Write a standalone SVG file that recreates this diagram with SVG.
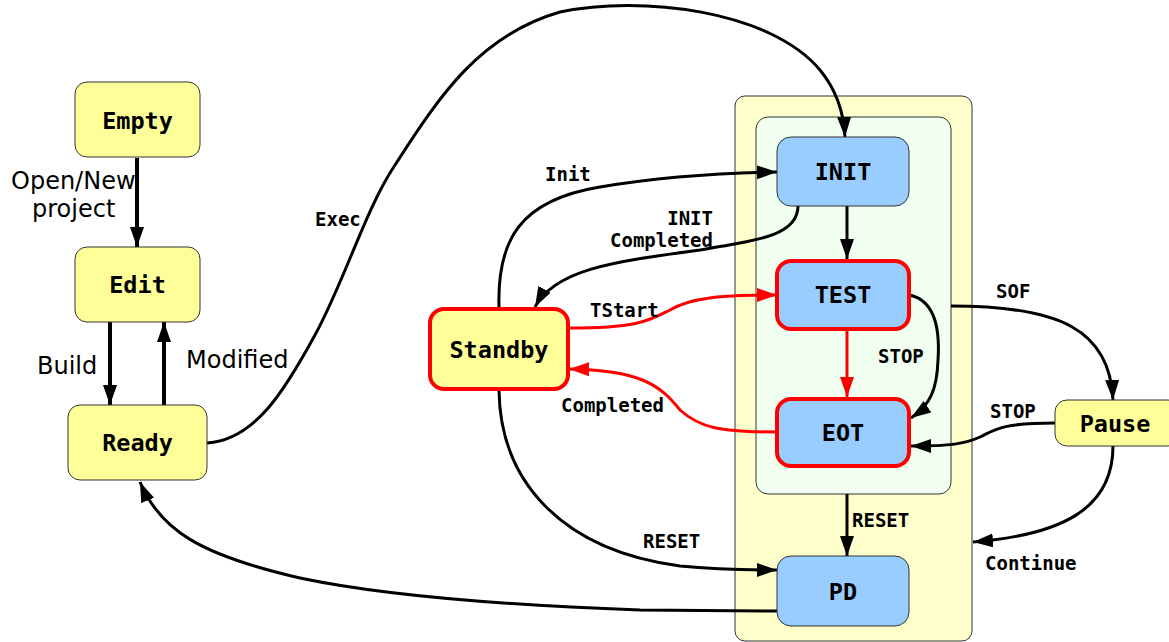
<svg xmlns="http://www.w3.org/2000/svg" width="1169" height="642" viewBox="0 0 1169 642">
<style>
.yel{fill:#ffff99;stroke:#333;stroke-width:1}
.blue{fill:#99ccff;stroke:#333;stroke-width:1}
.hot{stroke:#ff0000;stroke-width:4}
.nt{font-family:"DejaVu Sans Mono","Liberation Mono",monospace;font-weight:bold;font-size:23.5px;text-anchor:middle;fill:#000}
.el{font-family:"DejaVu Sans Mono","Liberation Mono",monospace;font-weight:bold;font-size:19px;fill:#000}
.sl{font-family:"DejaVu Sans","Liberation Sans",sans-serif;font-size:24px;fill:#000}
.c{fill:none;stroke:#000;stroke-width:3}
.cw{fill:none;stroke:#000;stroke-width:4}
.r{fill:none;stroke:#ff0000;stroke-width:3}
</style>
<defs>
<marker id="a" markerUnits="userSpaceOnUse" markerWidth="22" markerHeight="16" refX="20" refY="7" orient="auto"><path d="M0,0 L20,7 L0,14 z" fill="#000"/></marker>
<marker id="ar" markerUnits="userSpaceOnUse" markerWidth="22" markerHeight="16" refX="20" refY="7" orient="auto"><path d="M0,0 L20,7 L0,14 z" fill="#ff0000"/></marker>
</defs>
<g id="containers">
<rect x="735" y="96" width="237" height="545" rx="10" fill="#ffffcc" stroke="#333" stroke-width="1"/>
<rect x="756" y="117" width="195" height="377" rx="12" fill="#f0fff0" stroke="#333" stroke-width="1"/>
</g>
<g id="connectors">
<path class="cw" d="M137,158 L137,247" marker-end="url(#a)"/>
<path class="cw" d="M110,322 L110,405" marker-end="url(#a)"/>
<path class="cw" d="M164,405 L164,322" marker-end="url(#a)"/>
<path class="c" d="M207,443 C255,440 285,390 315,335 C345,280 365,210 395,165 C440,95 480,35 560,12 C640,-5 770,10 820,70 C838,92 844,115 845,137" marker-end="url(#a)"/>
<path class="c" d="M499,307 C497,240 520,200 600,187 C660,177 720,173 777,172" marker-end="url(#a)"/>
<path class="c" d="M798,206 C798,235 760,240 700,250 C610,262 555,270 535,307" marker-end="url(#a)"/>
<path class="r" d="M569,328 C640,328 650,320 670,310 C690,298 720,295 777,295" marker-end="url(#ar)"/>
<path class="r" d="M777,432 C720,432 700,428 680,410 C660,385 640,370 569,369" marker-end="url(#ar)"/>
<path class="c" d="M499,390 C500,480 560,550 680,566 C720,570 750,570 777,570" marker-end="url(#a)"/>
<path class="c" d="M777,611 L640,610 C500,605 380,595 300,578 C200,555 160,530 140,482" marker-end="url(#a)"/>
<path class="c" d="M847,206 L847,259" marker-end="url(#a)"/>
<path class="r" d="M847,331 L847,397" marker-end="url(#ar)"/>
<path class="c" d="M909,295 C935,300 940,330 938,360 C937,390 930,405 911,418" marker-end="url(#a)"/>
<path class="c" d="M847,494 L847,556" marker-end="url(#a)"/>
<path class="c" d="M951,306 C1060,306 1110,330 1113,400" marker-end="url(#a)"/>
<path class="c" d="M1055,423 C1000,423 995,430 980,437 C965,444 950,446 911,446" marker-end="url(#a)"/>
<path class="c" d="M1113,446 C1113,510 1060,535 973,542" marker-end="url(#a)"/>
</g>
<g id="labels">
<text class="sl" x="11" y="189">Open/New</text>
<text class="sl" x="32" y="217">project</text>
<text class="sl" x="37" y="374">Build</text>
<text class="sl" x="186" y="368">Modified</text>
<text class="el" x="315" y="226">Exec</text>
<text class="el" x="545" y="181">Init</text>
<text class="el" x="713" y="225" text-anchor="end">INIT</text>
<text class="el" x="713" y="247" text-anchor="end">Completed</text>
<text class="el" x="590" y="317">TStart</text>
<text class="el" x="561" y="412">Completed</text>
<text class="el" x="643" y="548">RESET</text>
<text class="el" x="878" y="363">STOP</text>
<text class="el" x="852" y="527">RESET</text>
<text class="el" x="996" y="298">SOF</text>
<text class="el" x="990" y="418">STOP</text>
<text class="el" x="985" y="570">Continue</text>
</g>
<g id="Empty"><rect class="yel" x="75" y="82" width="125" height="75" rx="12"/><text class="nt" x="137.5" y="129">Empty</text></g>
<g id="Edit"><rect class="yel" x="75" y="247" width="125" height="75" rx="12"/><text class="nt" x="137.5" y="293">Edit</text></g>
<g id="Ready"><rect class="yel" x="68" y="405" width="139" height="75" rx="12"/><text class="nt" x="137.5" y="451">Ready</text></g>
<g id="Standby"><rect class="yel hot" x="430" y="309" width="138" height="80" rx="14"/><text class="nt" x="499" y="358">Standby</text></g>
<g id="INIT"><rect class="blue" x="777" y="137" width="132" height="69" rx="14"/><text class="nt" x="843" y="180">INIT</text></g>
<g id="TEST"><rect class="blue hot" x="777" y="261" width="132" height="68" rx="14"/><text class="nt" x="843" y="303">TEST</text></g>
<g id="EOT"><rect class="blue hot" x="777" y="399" width="132" height="67" rx="14"/><text class="nt" x="843" y="441">EOT</text></g>
<g id="PD"><rect class="blue" x="777" y="556" width="132" height="70" rx="14"/><text class="nt" x="843" y="600">PD</text></g>
<g id="Pause"><rect class="yel" x="1055" y="400" width="125" height="46" rx="12"/><text class="nt" x="1115" y="432">Pause</text></g>
</svg>
